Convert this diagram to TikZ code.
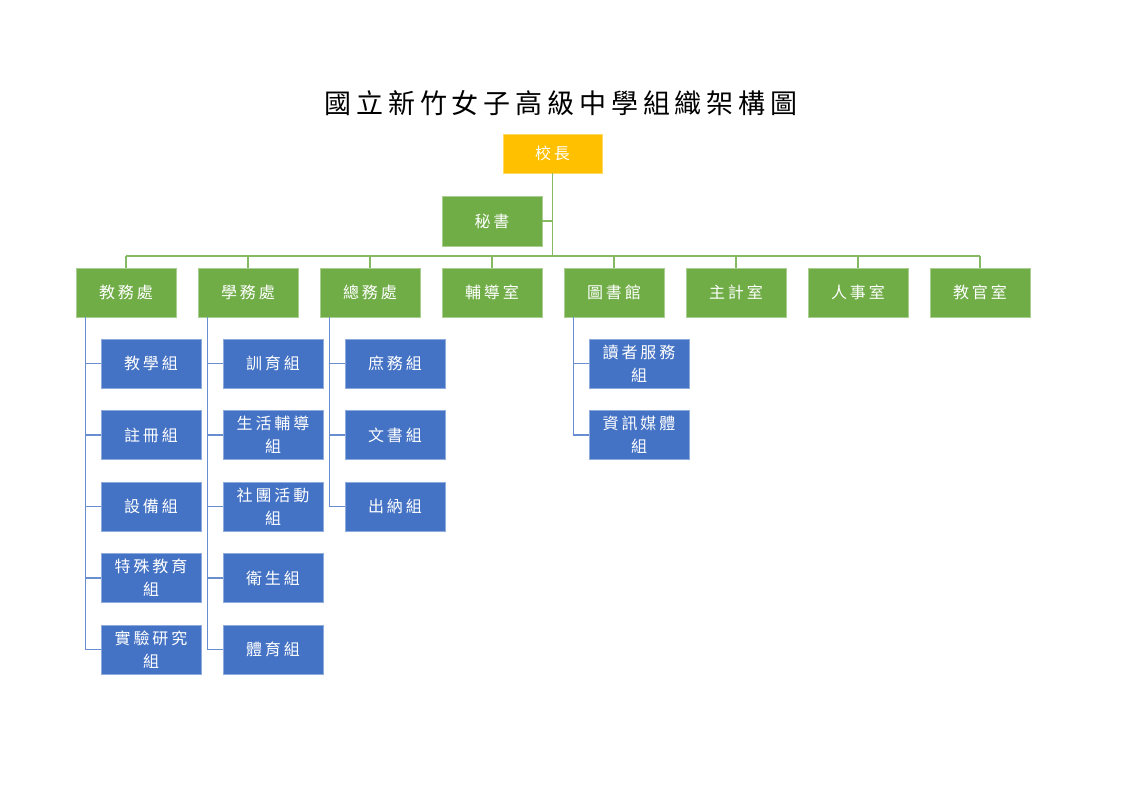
\documentclass[tikz,border=0pt]{standalone}
\usepackage{fontspec}
\setmainfont{Noto Sans CJK TC}
\newfontfamily\orgfont[LetterSpace=18]{Noto Sans CJK TC}
\usetikzlibrary{positioning, calc}
\definecolor{orgorange}{RGB}{255, 192, 0}
\definecolor{orggreen}{RGB}{112, 173, 71}
\definecolor{orgblue}{RGB}{68, 114, 196}

\begin{document}
\begin{tikzpicture}[
  x=1pt, y=-1pt,
  box/.style={rectangle, minimum width=100pt, minimum height=49pt, inner sep=1pt, align=center, text=white, line width=0.8pt, font=\orgfont\fontsize{16}{23}\selectfont},
  headbox/.style={box, fill=orgorange, draw=orgorange!60!white, minimum width=99pt, minimum height=39pt},
  deptbox/.style={box, fill=orggreen, draw=orggreen!60!white},
  unitbox/.style={box, fill=orgblue, draw=orgblue!60!white},
  greenline/.style={draw=orggreen!85!white, line width=1.6pt},
  blueline/.style={draw=orgblue!80!white, line width=1.6pt}
]
  \useasboundingbox (0,0) rectangle (1123,794);

  % Title
  \node[font=\orgfont\fontsize{27}{30}\selectfont] (title) at (561,103) {國立新竹女子高級中學組織架構圖};

  % Principal and secretary
  \node[headbox] (principal) at (552.5,153.5) {校長};
  \node[deptbox, minimum height=50pt] (secretary) at (492,221) {秘書};
  \coordinate (bus) at (552.5,256);
  \draw[greenline] (principal.south) -- (bus);
  \draw[greenline] (secretary.east) -- (secretary.east -| bus);

  % Offices
  \foreach \name/\txt [count=\i] in {jiaowu/教務處, xuewu/學務處, zongwu/總務處, fudao/輔導室, library/圖書館, accounting/主計室, personnel/人事室, military/教官室} {
    \node[deptbox] (\name) at ({126+122*(\i-1)},292.5) {\txt};
    \draw[greenline] (\name.north) -- (\name.north |- bus);
  }
  \draw[greenline] (jiaowu.north |- bus) -- (military.north |- bus);

  % Sections of each office
  \foreach \txt [count=\j] in {教學組, 註冊組, 設備組, {特殊教育\\組}, {實驗研究\\組}} {
    \node[unitbox] (jiaowu-\j) at ({126+25},{363.5+71.5*(\j-1)}) {\txt};
    \draw[blueline] ($(jiaowu.south west)+(10,0)$) |- (jiaowu-\j.west);
  }
  \foreach \txt [count=\j] in {訓育組, {生活輔導\\組}, {社團活動\\組}, 衛生組, 體育組} {
    \node[unitbox] (xuewu-\j) at ({248+25},{363.5+71.5*(\j-1)}) {\txt};
    \draw[blueline] ($(xuewu.south west)+(10,0)$) |- (xuewu-\j.west);
  }
  \foreach \txt [count=\j] in {庶務組, 文書組, 出納組} {
    \node[unitbox] (zongwu-\j) at ({370+25},{363.5+71.5*(\j-1)}) {\txt};
    \draw[blueline] ($(zongwu.south west)+(10,0)$) |- (zongwu-\j.west);
  }
  \foreach \txt [count=\j] in {{讀者服務\\組}, {資訊媒體\\組}} {
    \node[unitbox] (library-\j) at ({614+25},{363.5+71.5*(\j-1)}) {\txt};
    \draw[blueline] ($(library.south west)+(10,0)$) |- (library-\j.west);
  }
\end{tikzpicture}
\end{document}
